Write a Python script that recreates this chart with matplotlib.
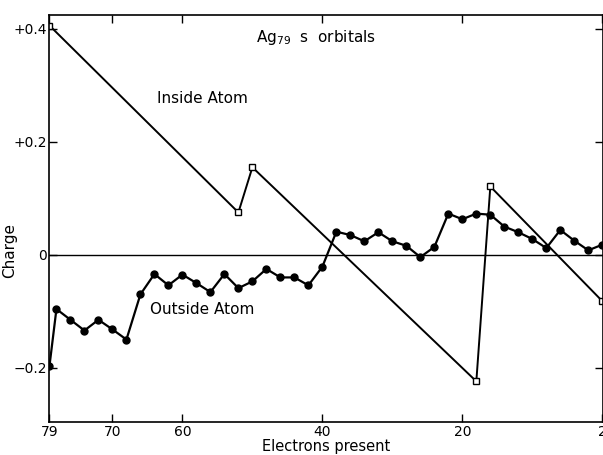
import matplotlib.pyplot as plt

# Electrons present (x) and charge (y)
electrons_out = [79, 78, 76, 74, 72, 70, 68, 66, 64, 62, 60, 58, 56, 54, 52, 50, 48, 46, 44, 42,
                 40, 38, 36, 34, 32, 30, 28, 26, 24, 22, 20, 18, 16, 14, 12, 10, 8, 6, 4, 2, 0]
charge_out = [-0.197, -0.096, -0.115, -0.134, -0.115, -0.132, -0.150, -0.070, -0.034, -0.054,
              -0.035, -0.050, -0.066, -0.034, -0.059, -0.047, -0.025, -0.040, -0.040, -0.054,
              -0.021, 0.041, 0.035, 0.024, 0.040, 0.024, 0.016, -0.004, 0.014, 0.073,
              0.063, 0.073, 0.071, 0.050, 0.040, 0.028, 0.012, 0.044, 0.025, 0.008, 0.018]

electrons_in = [79, 52, 50, 18, 16, 0]
charge_in = [0.406, 0.075, 0.155, -0.224, 0.121, -0.082]

xticks = [79, 70, 60, 40, 20, 0]
xticklabels = ["79", "70", "60", "40", "20", "2"]
yticks = [0.4, 0.2, 0, -0.2]
yticklabels = ["+0.4", "+0.2", "0", "\u22120.2"]

fig = plt.figure(figsize=(6.03, 4.55), dpi=100)
ax = fig.add_axes([0.082, 0.0725, 0.918, 0.895])

ax.axhline(0, color="black", lw=1.0)
ax.plot(electrons_in, charge_in, color="black", lw=1.4, marker="s", markersize=5,
        markerfacecolor="white", markeredgecolor="black", markeredgewidth=1.0)
ax.plot(electrons_out, charge_out, color="black", lw=1.6, marker="o", markersize=5,
        markerfacecolor="black")

ax.set_xlim(79, -0.1)
ax.set_ylim(-0.296, 0.425)

ax.set_xticks(xticks)
ax.set_xticklabels(xticklabels)
ax.set_yticks(yticks)
ax.set_yticklabels(yticklabels)
ax.tick_params(direction="in", length=6, width=1, labelsize=10, top=True, right=True, pad=2)

for s in ax.spines.values():
    s.set_linewidth(1.2)

ax.set_xlabel("Electrons present", fontsize=10.5, labelpad=0)
ax.set_ylabel("Charge", fontsize=11)
ax.yaxis.set_label_coords(-0.058, 0.42)

ax.text(49.5, 0.385, r"Ag$_{79}$  s  orbitals", fontsize=11, ha="left", va="center")
ax.text(57.2, 0.276, "Inside Atom", fontsize=11, ha="center", va="center")
ax.text(57.2, -0.096, "Outside Atom", fontsize=11, ha="center", va="center")

fig.savefig("out.png", dpi=100)
